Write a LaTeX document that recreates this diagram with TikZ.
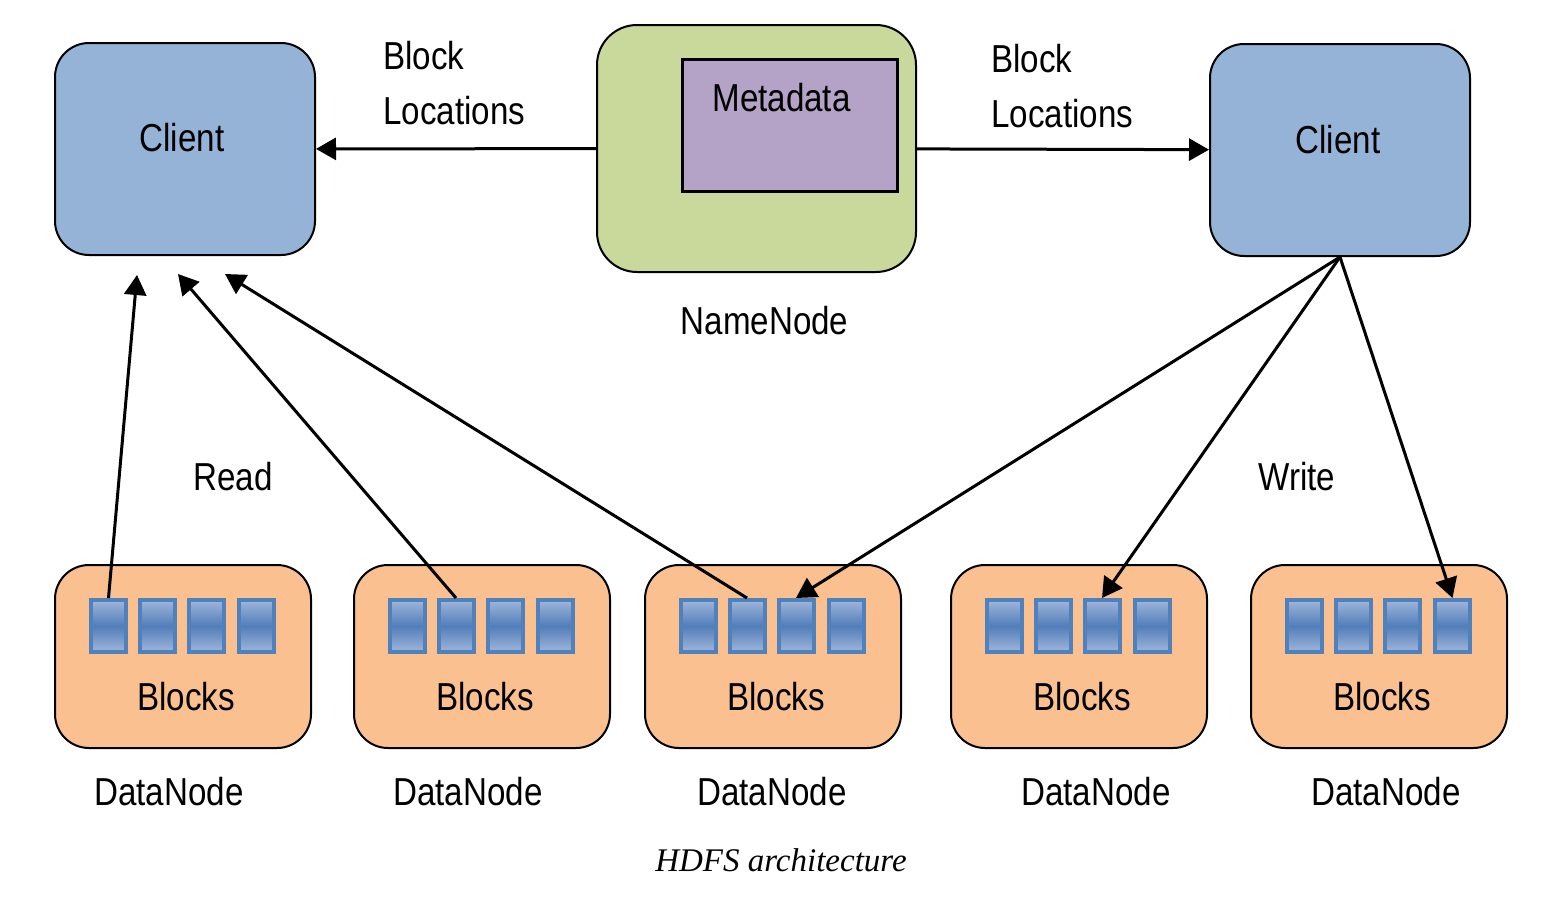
\documentclass[tikz,border=0pt]{standalone}
\usepackage{fontspec}
\setmainfont{Liberation Sans}[FakeStretch=0.85]
\newfontfamily\capfont{Liberation Serif}
\usepackage{tikz}
\usetikzlibrary{arrows.meta,positioning}

\definecolor{clientblue}{RGB}{149,179,215}
\definecolor{namegreen}{RGB}{201,216,155}
\definecolor{metapurple}{RGB}{180,162,199}
\definecolor{dataorange}{RGB}{250,192,143}
\definecolor{blockedge}{RGB}{79,129,189}
\definecolor{blocklight}{RGB}{160,182,218}
\definecolor{blockdark}{RGB}{82,126,186}

\begin{document}
\begin{tikzpicture}[x=0.5pt,y=-0.5pt,>={Triangle[length=10pt,width=11pt]},
    font=\fontsize{19.5}{27.5}\selectfont]
  \tikzstyle{client}=[draw,line width=1pt,fill=clientblue,rounded corners=17pt,minimum width=130pt,minimum height=106pt]
  \tikzstyle{namenode}=[draw,line width=1pt,fill=namegreen,rounded corners=20pt,minimum width=159.5pt,minimum height=123.5pt]
  \tikzstyle{meta}=[draw,line width=1.5pt,fill=metapurple,minimum width=107.5pt,minimum height=66pt]
  \tikzstyle{datanode}=[draw,line width=1pt,fill=dataorange,rounded corners=17pt,minimum width=128pt,minimum height=91.5pt]
  \tikzstyle{block}=[draw=blockedge,line width=2pt,top color=blocklight,bottom color=blocklight,middle color=blockdark,minimum width=17.5pt,minimum height=26pt,inner sep=0pt]
  \tikzstyle{arr}=[->,line width=1.5pt]

  \useasboundingbox (0,0) rectangle (1553,900);

  % clients and namenode
  \node[client,label={[yshift=5.5pt,xshift=-1.5pt]center:Client}] (cl1) at (185,149) {};
  \node[client,label={[yshift=5pt,xshift=-1pt]center:Client}] (cl2) at (1340,150) {};
  \node[namenode] (nn) at (756.5,148.5) {};
  \node[meta,label={[yshift=13.5pt,xshift=-4pt]center:Metadata}] (meta) at (789.5,125) {};
  \node[below=13pt of nn,xshift=4pt] (nnlbl) {NameNode};

  \node[align=left,anchor=west,inner sep=0pt] (bl1) at (383,83) {Block\\Locations};
  \node[align=left,anchor=west,inner sep=0pt] (bl2) at (991,86) {Block\\Locations};

  \draw[arr] (nn) -- (cl1);
  \draw[arr] (nn) -- (cl2);

  % datanodes
  \foreach \i/\l/\t in {1/55/169,2/354/468,3/645/772,4/951/1096,5/1251/1386}{
    \node[datanode,label={[yshift=-20pt,xshift=1.5pt]center:Blocks}] (dn\i) at (\l+128,656.5) {};
    \foreach \j/\o in {1/0,2/48.5,3/97.5,4/148}
      \node[block] (dn\i-\j) at (\l+53.5+\o,626) {};
    \node (dnlbl\i) at (\t,792) {DataNode};
  }

  % read
  \coordinate (r1) at (137,275);
  \coordinate (r2) at (178,274);
  \coordinate (r3) at (225,274);
  \draw[arr] (dn1-1.north) -- (r1);
  \draw[arr] (dn2-2.north) -- (r2);
  \draw[arr] (dn3-2.north) -- (r3);
  \node (read) at (233,477) {Read};

  % write
  \draw[arr] (cl2.south) -- (dn3-3.north);
  \draw[arr] (cl2.south) -- (dn4-3.north);
  \draw[arr] (cl2.south) -- (dn5-4.north);
  \node (write) at (1297,477) {Write};

  \node[font=\capfont\itshape\fontsize{16.5}{19}\selectfont] (cap) at (781,860) {HDFS architecture};
\end{tikzpicture}
\end{document}
